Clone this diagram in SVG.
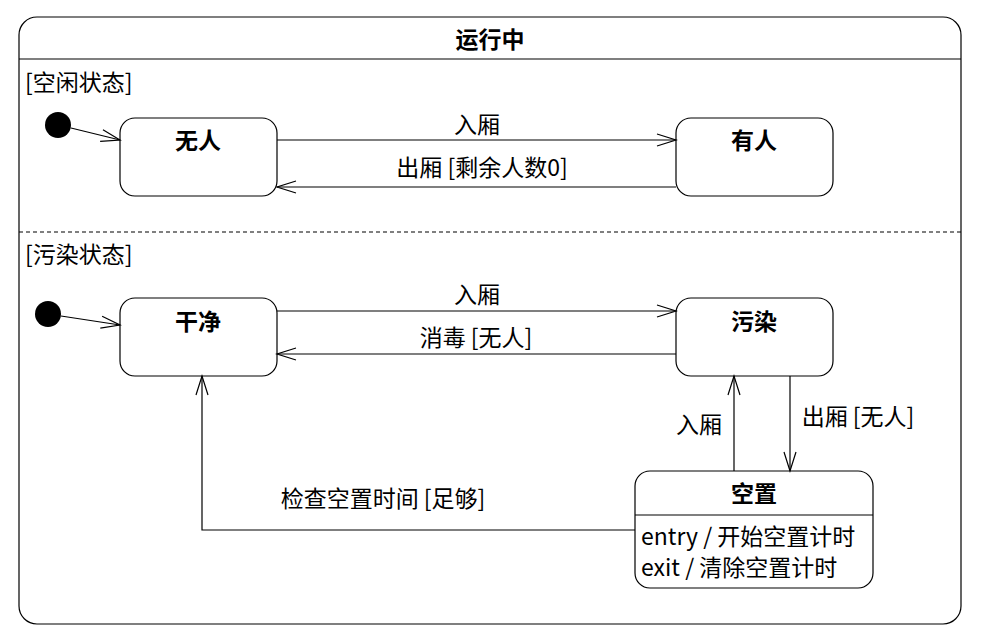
<svg xmlns="http://www.w3.org/2000/svg" width="987" height="638" viewBox="0 0 987 638">
<defs>
<style>
text{font-family:"Noto Sans CJK SC","DejaVu Sans",sans-serif;font-size:23px;fill:#000}
.b{font-weight:bold}
.m{text-anchor:middle}
.s{fill:#fff;stroke:#000;stroke-width:1.2}
.e{fill:none;stroke:#000;stroke-width:1.2}
</style>
<marker id="a" markerWidth="22" markerHeight="14" refX="20" refY="7" orient="auto" markerUnits="userSpaceOnUse">
<path d="M1,1 L20,7 L1,13" fill="none" stroke="#000" stroke-width="1.2"/>
</marker>
</defs>
<rect width="987" height="638" fill="#fff"/>
<g id="running">
<rect x="19" y="17" width="942" height="607" rx="18" class="s"/>
<line x1="19" y1="59" x2="961" y2="59" class="e"/>
<text x="490" y="48" class="b m">运行中</text>
<line x1="19" y1="232" x2="961" y2="232" class="e" stroke-dasharray="4,3"/>
<text x="25" y="91">[空闲状态]</text>
<text x="25" y="263">[污染状态]</text>
</g>
<g id="init1"><circle cx="58" cy="125" r="13" fill="#000"/></g>
<g id="init2"><circle cx="48" cy="314" r="13" fill="#000"/></g>
<g id="nobody"><rect x="120" y="118" width="157" height="78" rx="15" class="s"/><text x="198" y="149" class="b m">无人</text></g>
<g id="somebody"><rect x="676" y="118" width="157" height="78" rx="15" class="s"/><text x="754" y="149" class="b m">有人</text></g>
<g id="clean"><rect x="120" y="298" width="157" height="78" rx="15" class="s"/><text x="198" y="330" class="b m">干净</text></g>
<g id="dirty"><rect x="676" y="298" width="157" height="78" rx="15" class="s"/><text x="754" y="330" class="b m">污染</text></g>
<g id="idle">
<rect x="635" y="471" width="238" height="117" rx="15" class="s"/>
<line x1="635" y1="515" x2="873" y2="515" class="e"/>
<text x="754" y="502" class="b m">空置</text>
<text x="641" y="545">entry / 开始空置计时</text>
<text x="641" y="576">exit / 清除空置计时</text>
</g>
<g id="connectors" class="e">
<line x1="71" y1="128" x2="120" y2="140" marker-end="url(#a)"/>
<line x1="61" y1="316" x2="120" y2="325" marker-end="url(#a)"/>
<line x1="277" y1="140" x2="676" y2="140" marker-end="url(#a)"/>
<line x1="676" y1="187" x2="277" y2="187" marker-end="url(#a)"/>
<line x1="277" y1="311" x2="676" y2="311" marker-end="url(#a)"/>
<line x1="676" y1="354" x2="277" y2="354" marker-end="url(#a)"/>
<line x1="790" y1="376" x2="790" y2="471" marker-end="url(#a)"/>
<line x1="734" y1="471" x2="734" y2="376" marker-end="url(#a)"/>
<polyline points="635,530 202,530 202,376" marker-end="url(#a)"/>
</g>
<g id="labels">
<text x="477" y="133" class="m">入厢</text>
<text x="482" y="176" class="m">出厢 [剩余人数0]</text>
<text x="477" y="303" class="m">入厢</text>
<text x="476" y="346" class="m">消毒 [无人]</text>
<text x="699" y="433" class="m">入厢</text>
<text x="858" y="425" class="m">出厢 [无人]</text>
<text x="383" y="507" class="m">检查空置时间 [足够]</text>
</g>
</svg>
